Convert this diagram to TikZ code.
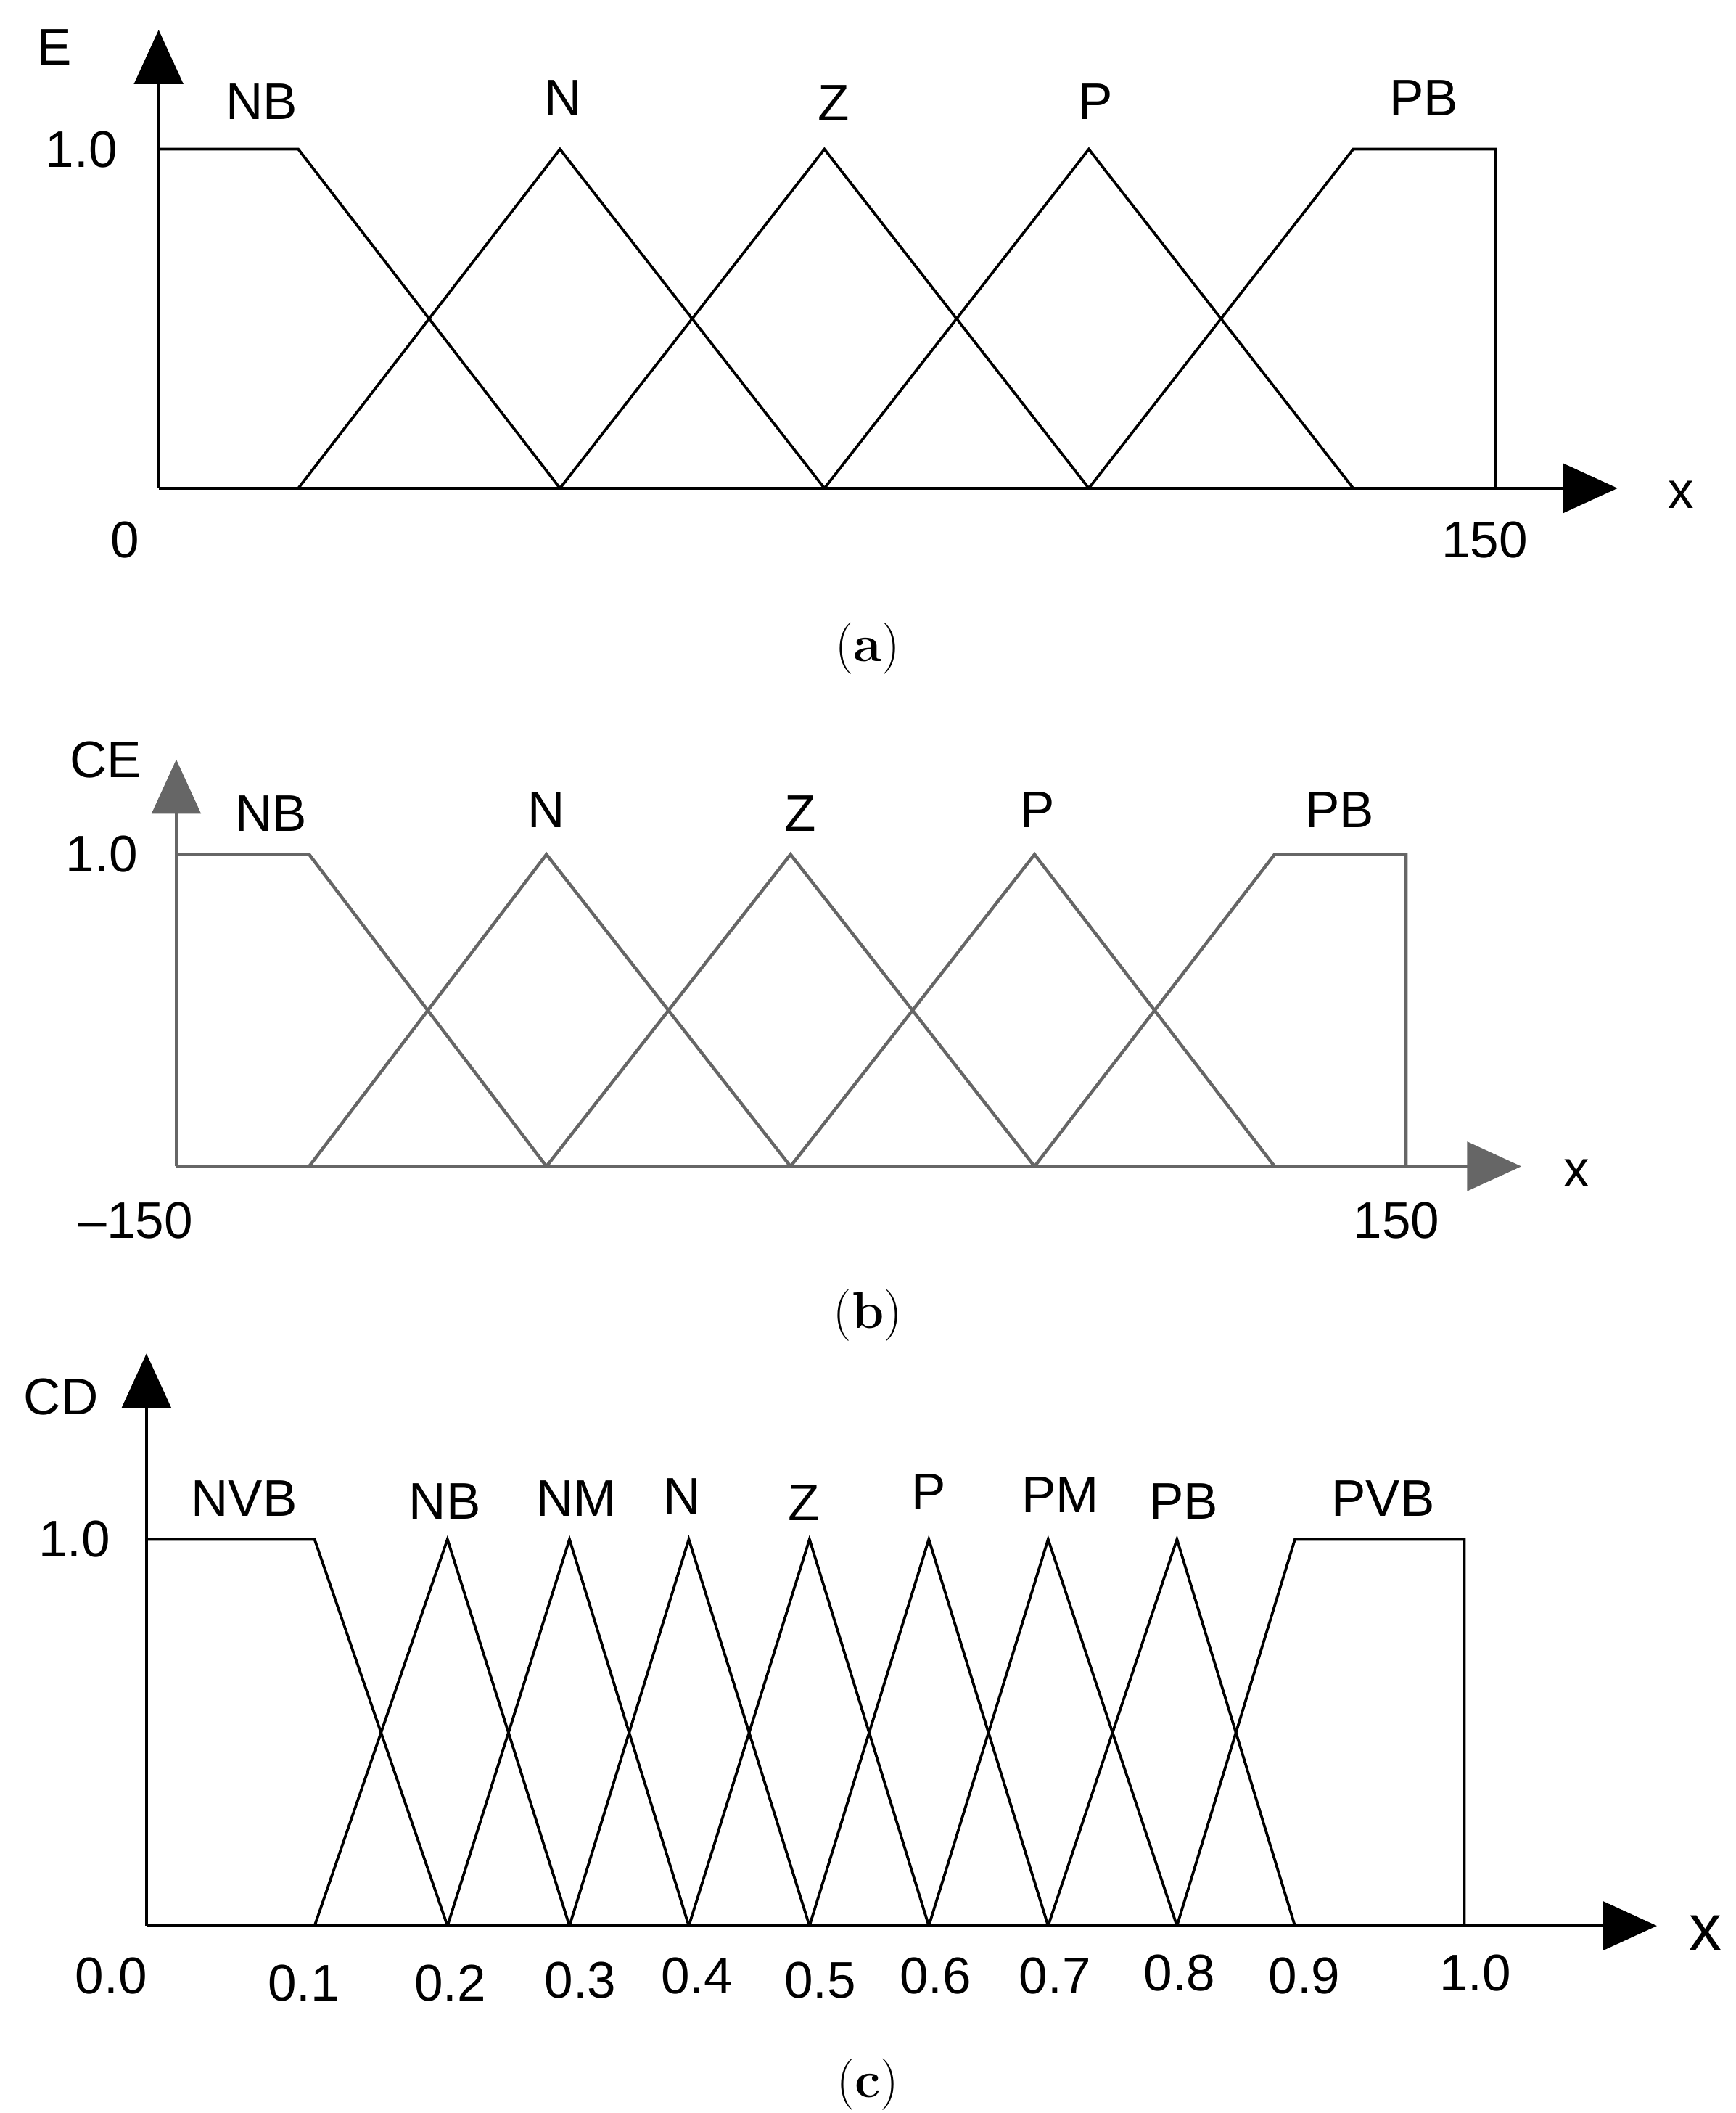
\documentclass[tikz,border=0pt]{standalone}
\usepackage{fontspec}
\setmainfont{Liberation Sans}
\newfontfamily\capfont{Latin Modern Roman}
\usetikzlibrary{arrows.meta}
\begin{document}
\begin{tikzpicture}[x=0.5pt,y=-0.5pt,
 ln/.style={line width=1pt,black},
 gln/.style={line width=1.2pt,gray!80!black},
 ax/.style={line width=1.2pt,-{Triangle[length=20pt,width=18pt]}},
 lab/.style={font=\fontsize{19}{22}\selectfont,inner sep=0},
 captxt/.style={font=\capfont\fontsize{19}{22}\selectfont,inner sep=0}]
\useasboundingbox (0,0) rectangle (1280,1558);
% (a)
\coordinate (ao) at (117,360);
\coordinate (ay) at (117,22);
\coordinate (ax) at (1193,360);
\draw[ax] (ao) -- (ay);
\draw[ax] (ao) -- (ax);
\draw[ln] (117,110) -- (220,110) -- (413,360);
\draw[ln] (220,360) -- (413,110) -- (608,360);
\draw[ln] (413,360) -- (608,110) -- (803,360);
\draw[ln] (608,360) -- (803,110) -- (998,360);
\draw[ln] (803,360) -- (998,110) -- (1103,110) -- (1103,360);
\node[lab] (aE) at (40,35) {E};
\node[lab] (aNB) at (193,75) {NB};
\node[lab] (aN) at (415,72) {N};
\node[lab] (aZ) at (615,76) {Z};
\node[lab] (aP) at (808,75) {P};
\node[lab] (aPB) at (1050,72) {PB};
\node[lab] (a1) at (60,110) {1.0};
\node[lab] (a0) at (92,398) {0};
\node[lab] (a150) at (1095,398) {150};
\node[lab] (axl) at (1240,365) {x};
\node[captxt] (ca) at (640,478) {(\textbf{a})};
% (b)
\coordinate (bo) at (130,860);
\coordinate (by) at (130,560);
\coordinate (bx) at (1122,860);
\draw[ax,gray!80!black] (bo) -- (by);
\draw[ax,gray!80!black] (bo) -- (bx);
\draw[gln] (130,630) -- (228,630) -- (403,860);
\draw[gln] (228,860) -- (403,630) -- (583,860);
\draw[gln] (403,860) -- (583,630) -- (763,860);
\draw[gln] (583,860) -- (763,630) -- (940,860);
\draw[gln] (763,860) -- (940,630) -- (1037,630) -- (1037,860);
\node[lab] (bCE) at (78,560) {CE};
\node[lab] (bNB) at (200,600) {NB};
\node[lab] (bN) at (403,597) {N};
\node[lab] (bZ) at (590,600) {Z};
\node[lab] (bP) at (765,597) {P};
\node[lab] (bPB) at (988,597) {PB};
\node[lab] (b1) at (75,630) {1.0};
\node[lab] (bm) at (100,900) {–150};
\node[lab] (b150) at (1030,900) {150};
\node[lab] (bxl) at (1163,865) {x};
\node[captxt] (cb) at (640,970) {(\textbf{b})};
% (c)
\coordinate (co) at (108,1420);
\coordinate (cy) at (108,998);
\coordinate (cx) at (1222,1420);
\draw[ax] (co) -- (cy);
\draw[ax] (co) -- (cx);
\draw[ln] (108,1135) -- (232,1135) -- (330,1420);
\draw[ln] (232,1420) -- (330,1135) -- (420,1420);
\draw[ln] (330,1420) -- (420,1135) -- (508,1420);
\draw[ln] (420,1420) -- (508,1135) -- (597,1420);
\draw[ln] (508,1420) -- (597,1135) -- (685,1420);
\draw[ln] (597,1420) -- (685,1135) -- (773,1420);
\draw[ln] (685,1420) -- (773,1135) -- (868,1420);
\draw[ln] (773,1420) -- (868,1135) -- (955,1420);
\draw[ln] (868,1420) -- (955,1135) -- (1080,1135) -- (1080,1420);
\node[lab] (cCD) at (45,1030) {CD};
\node[lab] (cNVB) at (180,1105) {NVB};
\node[lab] (cNB) at (328,1107) {NB};
\node[lab] (cNM) at (425,1105) {NM};
\node[lab] (cN) at (503,1103) {N};
\node[lab] (cZ) at (593,1108) {Z};
\node[lab] (cP) at (685,1100) {P};
\node[lab] (cPM) at (782,1102) {PM};
\node[lab] (cPB) at (873,1107) {PB};
\node[lab] (cPVB) at (1020,1105) {PVB};
\node[lab] (c1) at (55,1135) {1.0};
\node[lab] (t0) at (82,1457) {0.0};
\node[lab] (t1) at (224,1462) {0.1};
\node[lab] (t2) at (332,1462) {0.2};
\node[lab] (t3) at (428,1460) {0.3};
\node[lab] (t4) at (514,1457) {0.4};
\node[lab] (t5) at (605,1460) {0.5};
\node[lab] (t6) at (690,1457) {0.6};
\node[lab] (t7) at (778,1457) {0.7};
\node[lab] (t8) at (870,1455) {0.8};
\node[lab] (t9) at (962,1457) {0.9};
\node[lab] (t10) at (1088,1455) {1.0};
\node[lab,font=\fontsize{24}{28}\selectfont] (cxl) at (1258,1425) {x};
\node[captxt] (cc) at (640,1537) {(\textbf{c})};
\end{tikzpicture}
\end{document}
